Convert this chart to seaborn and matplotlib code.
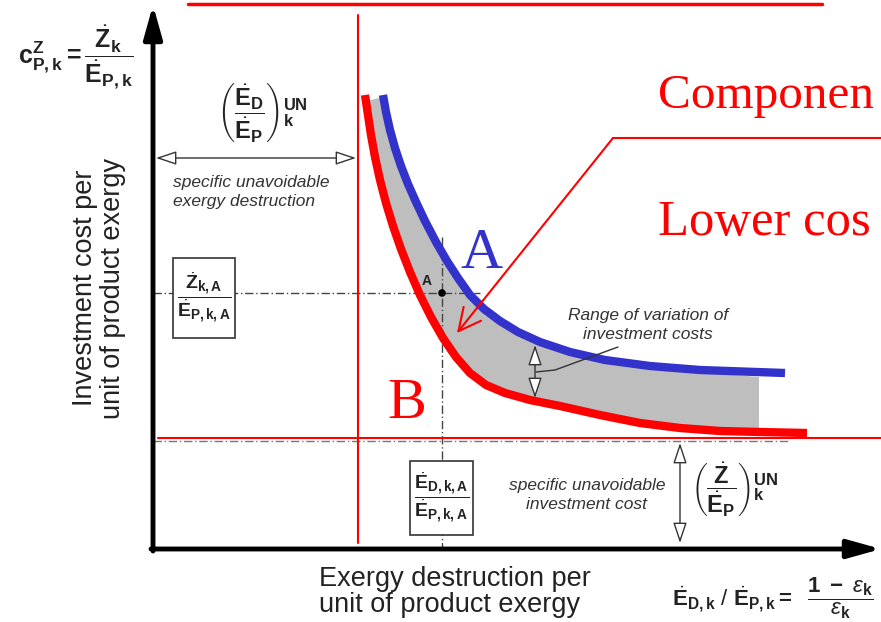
import numpy as np
import pandas as pd
import matplotlib
matplotlib.use("Agg")
import matplotlib.pyplot as plt
import seaborn as sns
from matplotlib.patches import Rectangle

# ---------------- data (pixel-like coordinates) ----------------
# upper cost curve (A, blue)
BLUE_X = [383, 386, 390, 395, 401, 408, 416, 425, 436, 447, 458, 470, 484, 500, 518, 540, 570, 605, 650, 700, 785]
BLUE_Y = [95, 112, 130, 148, 166, 184, 202, 221, 242, 261, 278, 295, 309, 321, 332, 342, 352, 360, 366, 370, 373]
# lower cost curve (B, red)
RED_X = [365, 368, 371, 375, 380, 386, 393, 401, 410, 420, 431, 443, 456, 470, 486, 505, 530, 560, 600, 640, 680, 720, 760, 807]
RED_Y = [95, 115, 135, 157, 180, 203, 226, 249, 272, 295, 317, 338, 357, 373, 385, 393, 400, 406, 415, 423, 428, 431, 432, 433]
# grey band (range of variation of investment costs)
BAND_TOP_X = [371, 383, 386, 390, 395, 401, 408, 416, 425, 436, 447, 458, 470, 484, 500, 518, 540, 570, 605, 650, 700, 759]
BAND_TOP_Y = [100, 97, 112, 130, 148, 166, 184, 202, 221, 242, 261, 278, 295, 309, 321, 332, 342, 352, 360, 366, 372, 377]
BAND_BOT_X = [759, 720, 680, 640, 600, 560, 530, 505, 486, 470, 456, 443, 431, 420, 410, 401, 393, 386, 380, 375, 371, 368, 367]
BAND_BOT_Y = [432, 431, 428, 423, 415, 406, 400, 393, 385, 373, 357, 338, 317, 295, 272, 249, 226, 203, 180, 157, 135, 115, 100]
# design point A
POINT_X = [442]
POINT_Y = [293]

# ---------------- style ----------------
sns.set_theme(style="white")
plt.rcParams["font.family"] = ["Liberation Sans", "DejaVu Sans"]
plt.rcParams["mathtext.fontset"] = "custom"
plt.rcParams["mathtext.rm"] = "Liberation Sans"
plt.rcParams["mathtext.bf"] = "Liberation Sans:bold"
plt.rcParams["mathtext.it"] = "Liberation Sans:italic"
plt.rcParams["mathtext.sf"] = "Liberation Sans"

RED = "#FF0000"
BLUE = "#3333CC"
GREY = "#BEBEBE"
DARK = "#333333"

fig = plt.figure(figsize=(8.81, 6.22), dpi=100)
ax = fig.add_axes([0, 0, 1, 1])

# grey band
ax.fill(BAND_TOP_X + BAND_BOT_X, BAND_TOP_Y + BAND_BOT_Y, color=GREY, lw=0, zorder=1)

# dashed guide lines
dash = (0, (6, 2, 1, 2))
ax.plot([153, 480], [293, 293], color="#444444", lw=1, ls=dash, zorder=2)
ax.plot([442, 442], [237, 548], color="#444444", lw=1, ls=dash, zorder=2)
ax.plot([153, 790], [441, 441], color="#777777", lw=1, ls=dash, zorder=2)

# curves via seaborn
curve_a = pd.DataFrame({"x": BLUE_X, "y": BLUE_Y})
sns.lineplot(data=curve_a, x="x", y="y", sort=False, estimator=None, color=BLUE,
             linewidth=6, ax=ax, zorder=5, solid_capstyle="butt", solid_joinstyle="round")
curve_b = pd.DataFrame({"x": RED_X, "y": RED_Y})
sns.lineplot(data=curve_b, x="x", y="y", sort=False, estimator=None, color=RED,
             linewidth=6, ax=ax, zorder=5, solid_capstyle="butt", solid_joinstyle="round")
sns.scatterplot(x=POINT_X, y=POINT_Y, color="black", s=30, ax=ax, zorder=6, edgecolor="none")
ax.set_xlim(0, 881)
ax.set_ylim(622, 0)
ax.axis("off")

# axes with arrows
ax.annotate("", xy=(153, 5), xytext=(153, 551),
            arrowprops=dict(arrowstyle="-|>,head_length=1.0,head_width=0.28", lw=3.5,
                            color="black", mutation_scale=20, shrinkA=0, shrinkB=0), zorder=4)
ax.annotate("", xy=(881, 549), xytext=(151, 549),
            arrowprops=dict(arrowstyle="-|>,head_length=1.0,head_width=0.28", lw=3.5,
                            color="black", mutation_scale=20, shrinkA=0, shrinkB=0), zorder=4)

# red overlay lines
ax.plot([188, 822], [4, 4], color=RED, lw=2.5, zorder=7)
ax.plot([358, 358], [15, 543], color=RED, lw=1.5, zorder=7)
ax.plot([158, 881], [438, 438], color=RED, lw=1.5, zorder=7)
ax.plot([881, 613], [138, 138], color=RED, lw=1.5, zorder=7)
ax.annotate("", xy=(457, 333), xytext=(613, 138),
            arrowprops=dict(arrowstyle="->,head_length=0.8,head_width=0.4", lw=1.5,
                            color=RED, mutation_scale=20, shrinkA=0, shrinkB=0), zorder=7)

# double arrows
ax.annotate("", xy=(156, 158), xytext=(356, 158),
            arrowprops=dict(arrowstyle="<|-|>,head_length=0.9,head_width=0.3", lw=1,
                            fc="white", ec=DARK, mutation_scale=14, shrinkA=0, shrinkB=0))
ax.annotate("", xy=(535, 345), xytext=(535, 398),
            arrowprops=dict(arrowstyle="<|-|>,head_length=0.9,head_width=0.3", lw=1,
                            fc="white", ec=DARK, mutation_scale=14, shrinkA=0, shrinkB=0), zorder=6)
ax.annotate("", xy=(680, 443), xytext=(680, 543),
            arrowprops=dict(arrowstyle="<|-|>,head_length=0.9,head_width=0.3", lw=1,
                            fc="white", ec=DARK, mutation_scale=14, shrinkA=0, shrinkB=0))
ax.plot([536, 555, 618], [372, 370, 347], color=DARK, lw=1, zorder=6)

# boxes
ax.add_patch(Rectangle((173, 258), 62, 80, fc="white", ec=DARK, lw=1.2, zorder=3))
ax.add_patch(Rectangle((410, 461), 63, 74, fc="white", ec=DARK, lw=1.2, zorder=3))

# formulas
ax.text(76, 58, r"$\mathbf{c}_{\mathbf{P,k}}^{\mathbf{Z}}\mathbf{=}\dfrac{\dot{\mathbf{Z}}_{\mathbf{k}}}{\dot{\mathbf{E}}_{\mathbf{P,k}}}$",
        fontsize=18, ha="center", va="center", color="#222222")
ax.text(262, 112, r"$\left(\dfrac{\dot{\mathbf{E}}_{\mathbf{D}}}{\dot{\mathbf{E}}_{\mathbf{P}}}\right)_{\mathbf{k}}^{\mathbf{UN}}$",
        fontsize=17, ha="center", va="center", color="#222222")
ax.text(204, 298, r"$\dfrac{\dot{\mathbf{Z}}_{\mathbf{k,A}}}{\dot{\mathbf{E}}_{\mathbf{P,k,A}}}$",
        fontsize=14, ha="center", va="center", color="#222222", zorder=4)
ax.text(441.5, 498, r"$\dfrac{\dot{\mathbf{E}}_{\mathbf{D,k,A}}}{\dot{\mathbf{E}}_{\mathbf{P,k,A}}}$",
        fontsize=14, ha="center", va="center", color="#222222", zorder=4)
ax.text(735, 490, r"$\left(\dfrac{\dot{\mathbf{Z}}}{\dot{\mathbf{E}}_{\mathbf{P}}}\right)_{\mathbf{k}}^{\mathbf{UN}}$",
        fontsize=17, ha="center", va="center", color="#222222")
ax.text(672, 598, r"$\dot{\mathbf{E}}_{\mathbf{D,k}}\ /\ \dot{\mathbf{E}}_{\mathbf{P,k}}\mathbf{=}\ \ \dfrac{\mathbf{1\ -\ }\varepsilon_{\mathbf{k}}}{\varepsilon_{\mathbf{k}}}$",
        fontsize=16, ha="left", va="center", color="#222222")

# small labels
ax.text(427, 281, "A", fontsize=10, fontweight="bold", ha="center", va="center", color="#222222", zorder=6)
ital = dict(fontsize=12.5, style="italic", color=DARK, linespacing=1.35)
ax.text(173, 192, "specific unavoidable\nexergy destruction", ha="left", va="center", **ital)
ax.text(648, 325, "Range of variation of\ninvestment costs", ha="center", va="center", zorder=6, **ital)
ax.text(587, 495, "specific unavoidable\ninvestment cost", ha="center", va="center", multialignment="center", **ital)

# axis titles
ax.text(99, 288, "Investment cost per\nunit of product exergy", rotation=90, fontsize=19.5,
        ha="center", va="center", multialignment="center", linespacing=1.1, color="#222222")
ax.text(455, 592, "Exergy destruction per\nunit of product exergy", fontsize=19.5,
        ha="center", va="center", multialignment="left", linespacing=1.0, color="#222222")

# big overlay letters / notes (the notes are cut by the right edge in the reference)
serif = ["Liberation Serif", "DejaVu Serif"]
ax.text(460, 268, "A", fontsize=42, family=serif, color=BLUE, ha="left", va="baseline", zorder=8)
ax.text(387, 418, "B", fontsize=42, family=serif, color=RED, ha="left", va="baseline", zorder=8)
ax.text(658, 108, "Componen", fontsize=35.5, family=serif, color=RED, ha="left", va="baseline", zorder=8)
ax.text(658, 235, "Lower cos", fontsize=36.5, family=serif, color=RED, ha="left", va="baseline", zorder=8)

fig.savefig("out.png", dpi=100)
